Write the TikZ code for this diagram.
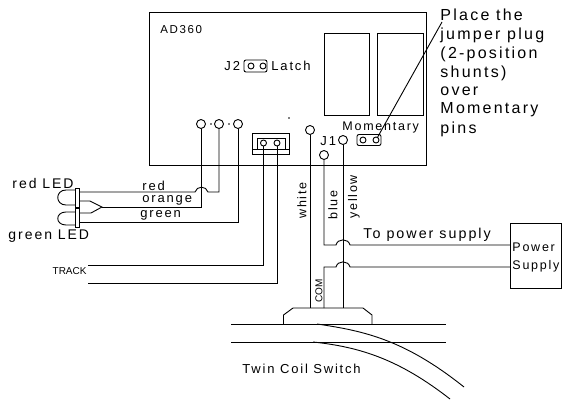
\documentclass[tikz,border=0pt]{standalone}
\usepackage{fontspec}
\setmainfont{Liberation Sans}
\newfontfamily\cadfont[LetterSpace=14]{Liberation Sans}
\begin{document}
\begin{tikzpicture}[x=1pt,y=-1pt,line width=0.9pt]
	\tikzset{trou/.style={circle, draw=black, inner sep=0pt, minimum size=9pt},
		petit/.style={circle, draw=black, inner sep=0pt, minimum size=6pt},
		point/.style={circle, fill=black, inner sep=0pt, minimum size=1.8pt},
		texte/.style={anchor=west, inner sep=0pt, font=\cadfont\fontsize{13}{13}\selectfont},
		moyen/.style={anchor=west, inner sep=0pt, font=\cadfont\fontsize{12.5}{12.5}\selectfont},
		grand/.style={anchor=west, inner sep=0pt, font=\cadfont\fontsize{14}{14}\selectfont},
		note/.style={anchor=west, inner sep=0pt, font=\cadfont\fontsize{16}{16}\selectfont},
		vert/.style={rotate=90, anchor=west, inner sep=0pt, font=\cadfont\fontsize{12.5}{12.5}\selectfont},
		mini/.style={inner sep=0pt, font=\fontsize{10}{10}\selectfont},
		fil/.style={draw=black}, saut/.style={out=75, in=105, looseness=1.3}};
	\useasboundingbox (0,0) rectangle (562,399);

	% board
	\node[draw, inner sep=0pt, minimum width=277.5pt, minimum height=153.5pt] (carte) at (287.7,88.7) {};
	\node[draw, inner sep=0pt, minimum width=45pt, minimum height=82pt] (relaisa) at (346.5,74) {};
	\node[draw, inner sep=0pt, minimum width=46pt, minimum height=82pt] (relaisb) at (400,74) {};
	\node[moyen, font=\cadfont\fontsize{11.5}{11.5}\selectfont] (ad) at (160,30) {AD360};

	\node[trou] (pr) at (201,124) {};
	\node[trou] (po) at (219,124) {};
	\node[trou] (pg) at (238,124) {};
	\node[point] (pa) at (211,124) {};
	\node[point] (pb) at (229,124) {};
	\node[point] (pc) at (289,118) {};
	\node[trou] (pw) at (310,130) {};
	\node[trou] (pbl) at (324,155) {};
	\node[trou] (py) at (343,140) {};
	\node[texte] (jun) at (320,141) {J1};

	% track connector
	\node[draw, inner sep=0pt, minimum width=37pt, minimum height=21pt] (bloc) at (270.5,143.5) {};
	\node[draw, inner sep=0pt, minimum width=28pt, minimum height=11pt] (blocin) at (271,143.5) {};
	\node[petit] (ta) at (263.5,143) {};
	\node[petit] (tb) at (277,143) {};
	\draw (252,149) -- (289,149);

	% jumpers
	\node[draw, rounded corners=2pt, inner sep=0pt, minimum width=23pt, minimum height=12pt] (jdeux) at (255.5,66) {};
	\node[petit] (ja) at (251,66) {};
	\node[petit] (jb) at (263,66) {};
	\node[texte] (jdt) at (224,66) {J2};
	\node[texte] (latch) at (271,66) {Latch};
	\node[draw, rounded corners=2pt, inner sep=0pt, minimum width=24pt, minimum height=11pt] (jmom) at (369,140) {};
	\node[petit] (ma) at (363,140) {};
	\node[petit] (mb) at (376,140) {};
	\node[moyen] (mom) at (342,127) {Momentary};

	% note
	\node[note] (na) at (440,15) {Place the};
	\node[note] (nb) at (440,35) {jumper plug};
	\node[note] (nc) at (440,54) {(2-position};
	\node[note] (nd) at (440,73) {shunts)};
	\node[note] (ne) at (440,91) {over};
	\node[note] (nf) at (440,110) {Momentary};
	\node[note] (ng) at (440,129) {pins};
	\coordinate (nfin) at (442,22);
	\draw (nfin) -- (mb);

	% LEDs
	\node[draw, inner sep=0pt, minimum width=4.5pt, minimum height=19pt] (ledr) at (77.2,197.5) {};
	\node[draw, inner sep=0pt, minimum width=4.5pt, minimum height=19pt] (ledg) at (77.2,217.5) {};
	\coordinate (dra) at (75,190);
	\coordinate (drb) at (75,205);
	\coordinate (dga) at (75,212);
	\coordinate (dgb) at (75,225);
	\draw (dra) -- (66,190) .. controls (55,190) and (55,205) .. (66,205) -- (drb);
	\draw (dga) -- (66,212) .. controls (55,212) and (55,225) .. (66,225) -- (dgb);
	\coordinate (pointe) at (102,207);
	\draw (79.5,201) -- (90,201) -- (pointe) -- (91,213) -- (79.5,213);
	\node[grand] (lr) at (12,183) {red LED};
	\node[grand] (lg) at (8,236) {green LED};

	% wires to the LEDs
	\coordinate (sa) at (195,192);
	\coordinate (sb) at (208,192);
	\draw[fil] (79.5,192) -- (sa) to[saut] (sb) -| (po);
	\draw[fil] (pr) |- (pointe);
	\draw[fil] (pg) |- (79.5,222);
	\node[texte] (tr) at (142,186) {red};
	\node[texte] (to) at (142,200.5) {orange};
	\node[texte] (tg) at (140,215) {green};

	% track wires
	\coordinate (tka) at (88,265);
	\coordinate (tkb) at (88,283);
	\draw[fil] (ta) |- (tka);
	\draw[fil] (tb) |- (tkb);
	\node[mini, anchor=east] (track) at (87,271) {TRACK};

	% switch
	\coordinate (ra) at (231,324);
	\coordinate (rb) at (446,324);
	\coordinate (rc) at (231,342);
	\coordinate (rd) at (446,342);
	\draw (ra) -- (rb);
	\draw (rc) -- (rd);
	\draw (283.5,324) -- (283.5,315) -- (293,308) -- (363,308) -- (372,315) -- (372,324);
	\draw (317,324) .. controls (365,331) and (405,340) .. (464,387);
	\draw (313,342) .. controls (361,347) and (400,360) .. (450,399);
	\node[texte] (twin) at (242,369) {Twin Coil Switch};

	% power supply
	\node[draw, inner sep=0pt, minimum width=51pt, minimum height=65pt] (alim) at (536,255.5) {};
	\node[moyen] (pow) at (512,247) {Power};
	\node[moyen] (sup) at (512,266) {Supply};
	\coordinate (wa) at (310,308);
	\coordinate (wb) at (343,308);
	\coordinate (wc) at (324,308);
	\coordinate (sc) at (336,245);
	\coordinate (sd) at (350,245);
	\coordinate (se) at (336,267);
	\coordinate (sf) at (350,267);
	\draw[fil] (pw) -- (wa);
	\draw[fil] (py) -- (wb);
	\draw[fil] (pbl) |- (sc) to[saut] (sd) -- (alim.west |- sd);
	\draw[fil] (wc) |- (se) to[saut] (sf) -- (alim.west |- sf);
	\node[texte, font=\cadfont\fontsize{14.3}{14.3}\selectfont] (tops) at (363,235) {To power supply};

	% wire colours
	\node[vert] (tw) at (302,219) {white};
	\node[vert] (tb2) at (333,220) {blue};
	\node[vert] (ty) at (354,219) {yellow};
	\node[mini, rotate=90, anchor=west] (com) at (319,303) {COM};
\end{tikzpicture}
\end{document}
